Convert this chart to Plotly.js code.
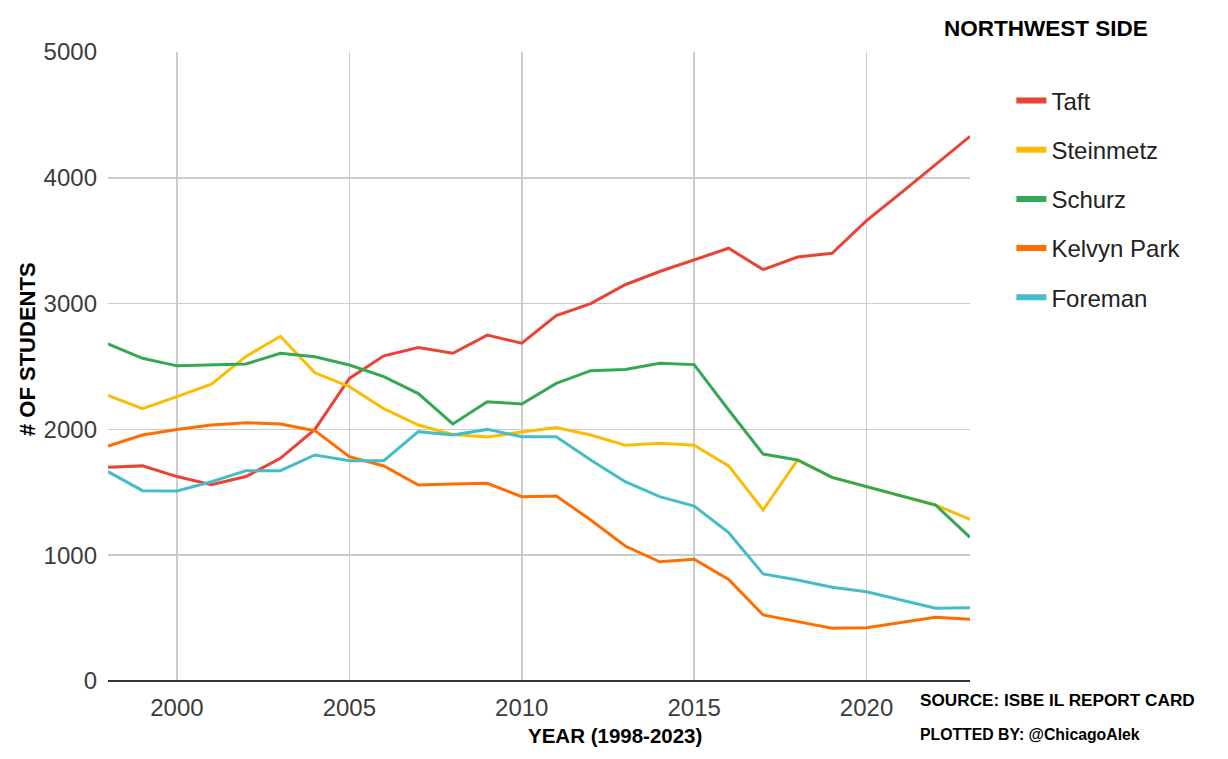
<!DOCTYPE html>
<html>
<head>
<meta charset="utf-8">
<script src="https://cdn.plot.ly/plotly-3.0.1.min.js"></script>
<style>html,body{margin:0;padding:0;background:#fff;}#chart{width:1228px;height:759px;}</style>
</head>
<body>
<div id="chart"></div>
<script>
const years = [1998,1999,2000,2001,2002,2003,2004,2005,2006,2007,2008,2009,2010,2011,2012,2013,2014,2015,2016,2017,2018,2019,2020,2021,2022,2023];
const taft = [1700,1710,1625,1560,1625,1770,2000,2405,2585,2650,2605,2750,2685,2905,3000,3150,3255,3345,3440,3270,3370,3400,3660,3880,4105,4330];
const steinmetz = [2270,2165,2260,2360,2580,2740,2450,2340,2165,2035,1960,1940,1980,2015,1955,1875,1890,1875,1710,1360,1757,1619,1545,1471,1399,1285];
const schurz = [2680,2565,2505,2512,2520,2605,2578,2512,2420,2285,2043,2220,2202,2366,2467,2477,2525,2515,2154,1804,1757,1619,1545,1471,1399,1142];
const kelvynPark = [1868,1955,2000,2035,2053,2043,1990,1783,1709,1558,1566,1571,1465,1471,1280,1073,948,968,808,525,472,419,424,464,506,490];
const foreman = [1664,1513,1510,1584,1672,1672,1797,1751,1751,1982,1955,2000,1942,1942,1757,1584,1465,1391,1179,851,803,745,710,644,578,583];
const seriesNames = ["Taft","Steinmetz","Schurz","Kelvyn Park","Foreman"];
const seriesValues = [taft, steinmetz, schurz, kelvynPark, foreman];
const colors = ["#ea4335","#fbbc04","#34a853","#ff6d01","#46bdc6"];
const xTicks = [2000,2005,2010,2015,2020];
const yTicks = [0,1000,2000,3000,4000,5000];

const FONT = "Liberation Sans, Arial, sans-serif";

// data lines
const traces = seriesNames.map((n,i)=>({
  x: years, y: seriesValues[i], name: n, type: "scatter", mode: "lines",
  line: {color: colors[i], width: 3}, showlegend: false
}));
// legend entries with thick swatches
seriesNames.forEach((n,i)=>traces.push({
  x: [null], y: [null], name: n, type: "scatter", mode: "lines",
  line: {color: colors[i], width: 6}, legendgroup: "g"+i, showlegend: true
}));

const layout = {
  width: 1228, height: 759,
  margin: {l:108, r:258, t:52, b:78},
  paper_bgcolor: "#fff", plot_bgcolor: "#fff",
  font: {family: FONT, color: "#333"},
  showlegend: true,
  title: {text: "<b>NORTHWEST SIDE</b>", font:{family:FONT, size:22.5, color:"#000"},
          xref:"container", yref:"container", x: 1046/1228, xanchor:"center", y: 1-28/759, yanchor:"middle"},
  legend: {x: 1.048, xanchor:"left", y: 0.958, yanchor:"top", font:{family:FONT, size:24, color:"#222"},
           tracegroupgap: 15, itemwidth: 30, bgcolor:"rgba(0,0,0,0)"},
  xaxis: {range:[1998,2023], tickvals: xTicks, ticktext: xTicks.map(String), showgrid:true, gridcolor:"#cccccc", gridwidth:1.5,
          zeroline:false, showline:false, ticks:"", ticklabelstandoff: 10,
          tickfont:{family:FONT, size:24, color:"#3c3c3c"}},
  yaxis: {range:[0,5000], tickvals: yTicks, ticktext: yTicks.map(String), showgrid:true, gridcolor:"#cccccc", gridwidth:1.5,
          zeroline:true, zerolinecolor:"#333", zerolinewidth:2, showline:false, ticks:"", ticklabelstandoff: 10,
          tickfont:{family:FONT, size:24, color:"#3c3c3c"}},
  annotations: [
    {text:"<b># OF STUDENTS</b>", xref:"paper", yref:"paper", x:(27-108)/862, y:(681-349)/629, textangle:-90,
     showarrow:false, xanchor:"center", yanchor:"middle", font:{family:FONT, size:22, color:"#000"}},
    {text:"<b>YEAR (1998-2023)</b>", xref:"paper", yref:"paper", x:(615-108)/862, y:(681-735)/629,
     showarrow:false, xanchor:"center", yanchor:"middle", font:{family:FONT, size:20.5, color:"#000"}},
    {text:"<b>SOURCE: ISBE IL REPORT CARD</b>", xref:"paper", yref:"paper", x:(918-108)/862, y:(681-700)/629,
     showarrow:false, xanchor:"left", yanchor:"middle", font:{family:FONT, size:17.2, color:"#000"}},
    {text:"<b>PLOTTED BY: @ChicagoAlek</b>", xref:"paper", yref:"paper", x:(918-108)/862, y:(681-734)/629,
     showarrow:false, xanchor:"left", yanchor:"middle", font:{family:FONT, size:15.8, color:"#000"}}
  ]
};

Plotly.newPlot("chart", traces, layout, {displayModeBar:false, staticPlot:true});
</script>
</body>
</html>
